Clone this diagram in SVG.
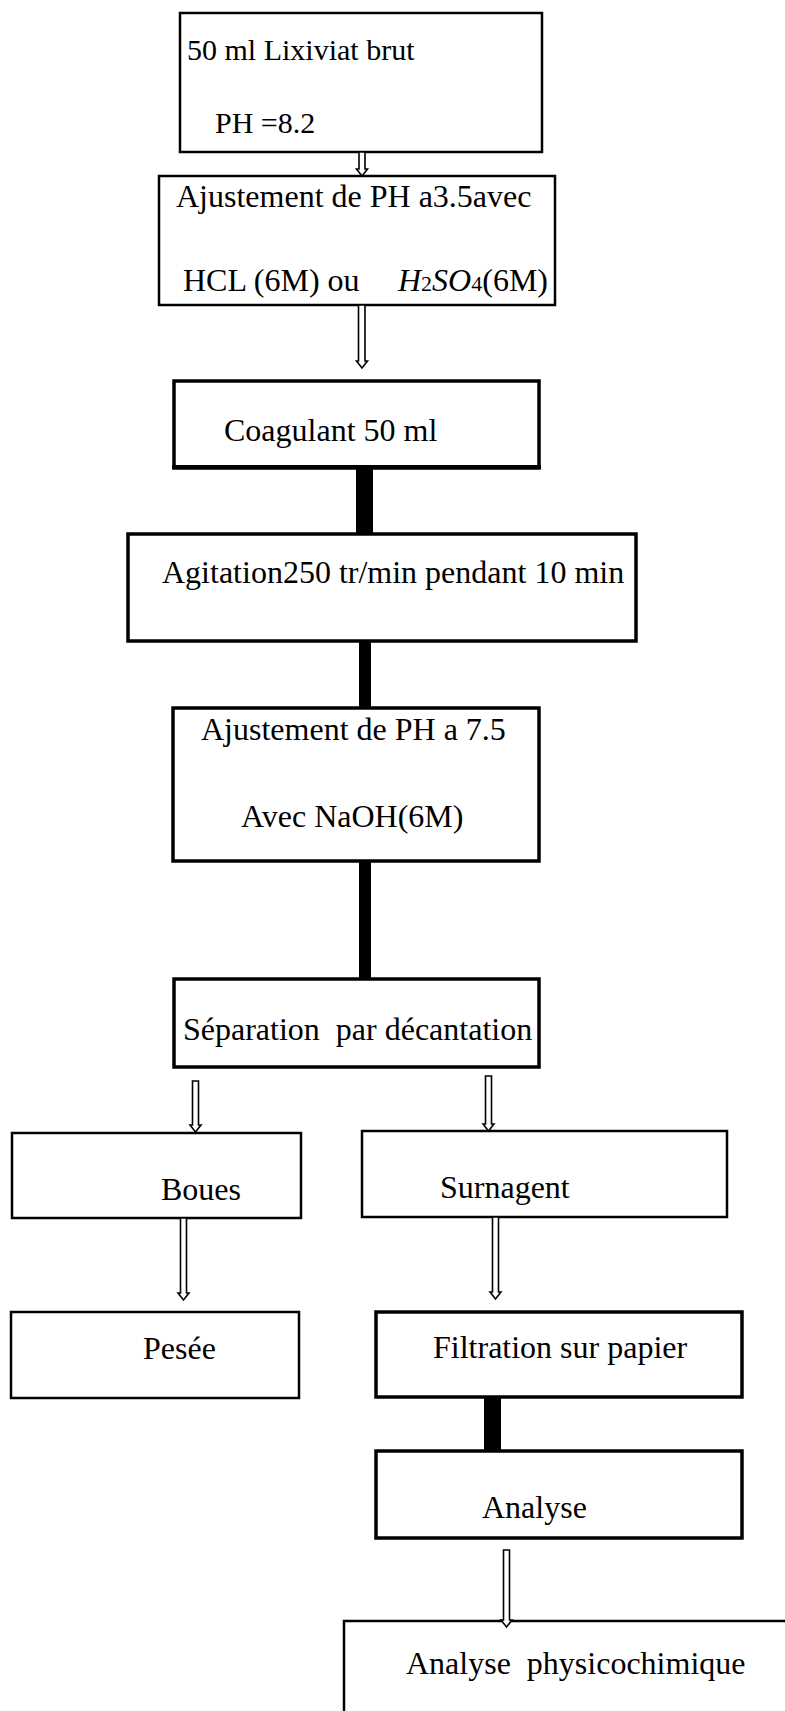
<svg xmlns="http://www.w3.org/2000/svg" width="785" height="1711" viewBox="0 0 785 1711">
<style>
text{font-family:"Liberation Serif","Times New Roman",serif;font-size:32px;fill:#000}
.b{fill:#fff;stroke:#000;stroke-width:2.5}
.bt{fill:#fff;stroke:#000;stroke-width:3.5}
.ar{fill:#fff;stroke:#000;stroke-width:1.6;stroke-linejoin:miter}
.th{fill:#000}
.it{font-style:italic}
.sm{font-size:22px}
</style>
<rect width="785" height="1711" fill="#fff"/>
<g id="n1"><rect class="b" x="180" y="13" width="362" height="139"/>
<text x="187" y="60" style="font-size:30px">50 ml Lixiviat brut</text>
<text x="215" y="133" style="font-size:30px">PH =8.2</text></g>
<g id="n2"><rect class="b" x="159" y="176" width="396" height="129"/>
<text x="176" y="207">Ajustement de PH a3.5avec</text>
<text x="183" y="291">HCL (6M) ou<tspan x="398" class="it">H</tspan><tspan class="sm">2</tspan><tspan class="it">SO</tspan><tspan class="sm">4</tspan>(6M)</text></g>
<g id="n3"><rect class="bt" x="174" y="381" width="365" height="87"/>
<line x1="172" y1="467" x2="541" y2="467" stroke="#000" stroke-width="4"/>
<text x="224" y="441">Coagulant 50 ml</text></g>
<g id="n4"><rect class="bt" x="128" y="534" width="508" height="107"/>
<text x="162" y="583">Agitation250 tr/min pendant 10 min</text></g>
<g id="n5"><rect class="bt" x="173" y="708" width="366" height="153"/>
<text x="201" y="740">Ajustement de PH a 7.5</text>
<text x="241" y="827">Avec NaOH(6M)</text></g>
<g id="n6"><rect class="bt" x="174" y="979" width="365" height="88"/>
<text x="183" y="1040" xml:space="preserve">Séparation  par décantation</text></g>
<g id="n7"><rect class="b" x="12" y="1133" width="289" height="85"/>
<text x="161" y="1200">Boues</text></g>
<g id="n8"><rect class="b" x="362" y="1131" width="365" height="86"/>
<text x="440" y="1198">Surnagent</text></g>
<g id="n9"><rect class="b" x="11" y="1312" width="288" height="86"/>
<text x="143" y="1359">Pesée</text></g>
<g id="n10"><rect class="bt" x="376" y="1312" width="366" height="85"/>
<text x="433" y="1358">Filtration sur papier</text></g>
<g id="n11"><rect class="bt" x="376" y="1451" width="366" height="87"/>
<text x="482" y="1518">Analyse</text></g>
<g id="n12"><rect class="b" x="344" y="1621" width="500" height="200"/>
<text x="406" y="1674" xml:space="preserve">Analyse  physicochimique</text></g>
<g id="connectors">
<path class="ar" d="M359 152H365V169H367.5L362 176L356.5 169H359Z"/>
<path class="ar" d="M358.5 305H365V361H367.5L362 368L356.5 361H358.5Z"/>
<rect class="th" x="356" y="468" width="17" height="66"/>
<rect class="th" x="359" y="641" width="12" height="67"/>
<rect class="th" x="359" y="861" width="12" height="118"/>
<path class="ar" d="M192.5 1081H198.5V1125H201L195.5 1132L190 1125H192.5Z"/>
<path class="ar" d="M485.5 1076H491.5V1124H494L488.5 1131L483 1124H485.5Z"/>
<path class="ar" d="M180.5 1218H186.5V1293H189L183.5 1300L178 1293H180.5Z"/>
<path class="ar" d="M492.5 1217H498.5V1292H501L495.5 1299L490 1292H492.5Z"/>
<rect class="th" x="484" y="1397" width="17" height="54"/>
<path class="ar" d="M503.5 1550H509.5V1620H512L506.5 1627L501 1620H503.5Z"/>
</g>
</svg>
